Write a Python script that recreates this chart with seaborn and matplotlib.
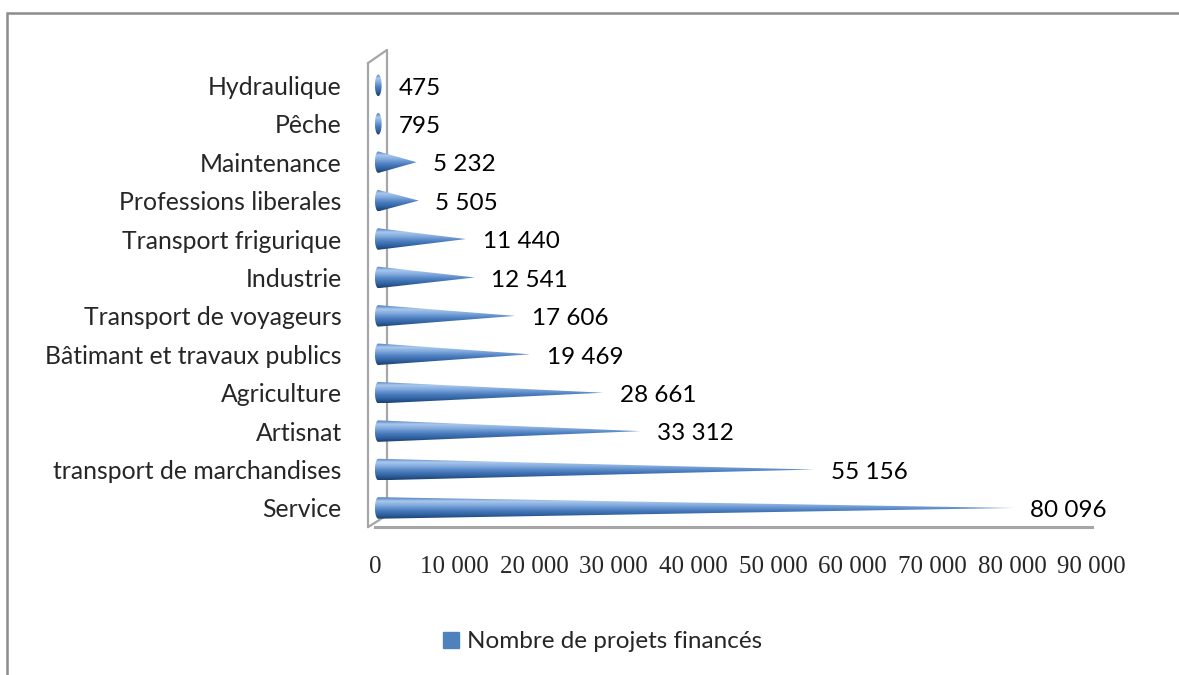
import numpy as np
import pandas as pd
import matplotlib
matplotlib.use("Agg")
import matplotlib.pyplot as plt
import seaborn as sns
from matplotlib.colors import LinearSegmentedColormap
from matplotlib.patches import Polygon, Patch, Rectangle
from matplotlib.ticker import FuncFormatter, MultipleLocator

# data (top to bottom)
secteurs = [
    "Hydraulique", "Pêche", "Maintenance", "Professions liberales",
    "Transport frigurique", "Industrie", "Transport de voyageurs",
    "Bâtimant et travaux publics", "Agriculture", "Artisnat",
    "transport de marchandises", "Service",
]
projets = [475, 795, 5232, 5505, 11440, 12541, 17606, 19469, 28661, 33312, 55156, 80096]
serie = "Nombre de projets financés"

df = pd.DataFrame({"secteur": secteurs, "projets": projets})

sns.set_style("white")
plt.rcParams["font.family"] = ["Lato", "DejaVu Sans"]

fig = plt.figure(figsize=(11.79, 6.75), dpi=100)
ax = fig.add_axes([0.318, 0.219, 0.608, 0.683])

sns.barplot(data=df, x="projets", y="secteur", orient="h", width=0.56,
            color="#4F81BD", ax=ax)

# turn each bar into a shaded cone
cone_cmap = LinearSegmentedColormap.from_list(
    "cone",
    [(0.0, "#4A7BBE"), (0.18, "#A9C8EE"), (0.35, "#86AEE0"),
     (0.6, "#4C7EC0"), (0.85, "#2B5B98"), (1.0, "#1D3F6E")],
)
grad = np.linspace(0, 1, 64).reshape(-1, 1)
a = 420  # half width of the base ellipse, data units
for bar in list(ax.patches):
    x0, y0 = bar.get_x(), bar.get_y()
    w, h = bar.get_width(), bar.get_height()
    bar.set_visible(False)
    yc = y0 + h / 2
    xe = x0 + a  # ellipse centre, so the base touches the wall
    tip = x0 + max(w, 2 * a)
    t = np.linspace(np.pi / 2, 3 * np.pi / 2, 30)
    pts = np.column_stack([xe + a * np.cos(t), yc - (h / 2) * np.sin(t)])
    if w > 2.6 * a:
        pts = np.vstack([pts, [tip, yc]])
    else:
        t2 = np.linspace(-np.pi / 2, np.pi / 2, 30)
        pts = np.vstack([pts, np.column_stack([xe + (tip - xe) * np.cos(t2),
                                               yc - (h / 2) * np.sin(t2)])])
    clip = Polygon(pts, closed=True, facecolor="none", edgecolor="none",
                   transform=ax.transData)
    ax.add_patch(clip)
    im = ax.imshow(grad, cmap=cone_cmap, aspect="auto", origin="upper",
                   extent=(x0, tip, y0 + h, y0), zorder=3)
    im.set_clip_path(clip)

fmt = lambda v: f"{v:,.0f}".replace(",", " ")
for i, v in enumerate(projets):
    ax.annotate(fmt(v), xy=(max(v, 2 * a), i), xytext=(12, -2), textcoords="offset points",
                ha="left", va="center", fontsize=17.5, color="black")

ax.set_xlim(0, 90000)
ax.set_ylim(11.5, -0.5)
ax.xaxis.set_major_locator(MultipleLocator(10000))
ax.xaxis.set_major_formatter(FuncFormatter(lambda v, p: fmt(v)))
ax.set_xlabel("")
ax.set_ylabel("")
ax.tick_params(axis="x", length=0, pad=21, labelsize=18)
ax.tick_params(axis="y", length=0, pad=24, labelsize=17.8)
for lab in ax.get_xticklabels():
    lab.set_fontfamily("Liberation Serif")

for s in ["top", "right", "left"]:
    ax.spines[s].set_visible(False)
ax.spines["bottom"].set_color("#A6A6A6")
ax.spines["bottom"].set_linewidth(2.2)

# thin 3-D side wall
wall = dict(color="#A6A6A6", lw=1.6, transform=ax.transAxes, clip_on=False, zorder=1)
ax.plot([-0.0098, -0.0098], [0.0, 1.0065], **wall)
ax.plot([0.0167, 0.0167], [0.026, 1.035], **wall)
ax.plot([-0.0098, 0.0167], [1.0065, 1.035], **wall)
ax.plot([-0.0098, 0.0167], [0.0, 0.026], **wall)

fig.legend(handles=[Patch(color="#4F81BD", label=serie)], loc="center",
           bbox_to_anchor=(0.511, 0.049), frameon=False, fontsize=17.5,
           handlelength=0.65, handleheight=0.65, handletextpad=0.35)

# outer chart border
fig.add_artist(Rectangle((0.006, -0.05), 1.1, 1.031, transform=fig.transFigure,
                         fill=False, edgecolor="#8C8C8C", lw=1.8))

fig.savefig("out.png", dpi=100)
